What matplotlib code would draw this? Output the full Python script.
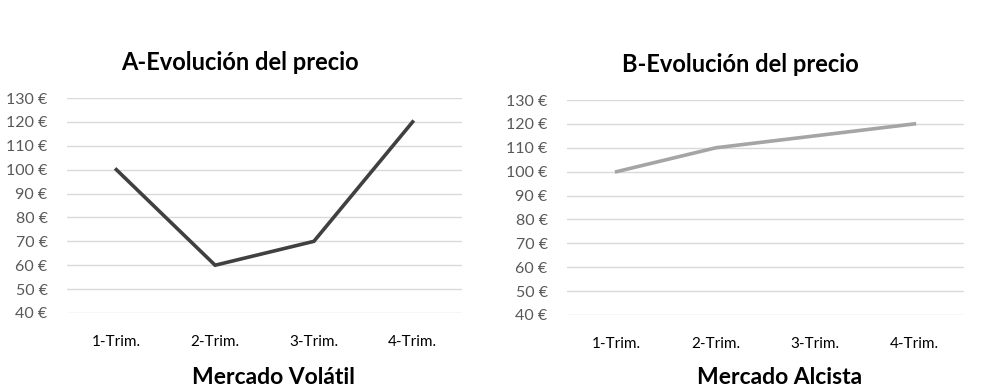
import matplotlib
matplotlib.use("Agg")
import matplotlib.pyplot as plt

categories = ["1-Trim.", "2-Trim.", "3-Trim.", "4-Trim."]
volatil = [100, 60, 70, 120]
alcista = [100, 110, 115, 120]
yticks = [40, 50, 60, 70, 80, 90, 100, 110, 120, 130]
ytick_labels = [f"{v} €" for v in yticks]

plt.rcParams['font.family'] = ['Lato', 'DejaVu Sans']

fig = plt.figure(figsize=(9.92, 3.89), dpi=100)

panels = [
    dict(rect=[67/992, 1-313/389, 395/992, 215/389], data=volatil, color="#404040",
         title="A-Evolución del precio", title_x=240/992, title_y=1-62/389,
         xlabel="Mercado Volátil", xl_x=273/992),
    dict(rect=[567/992, 1-315/389, 397/992, 215/389], data=alcista, color="#A5A5A5",
         title="B-Evolución del precio", title_x=740/992, title_y=1-65/389,
         xlabel="Mercado Alcista", xl_x=780/992),
]

for p in panels:
    ax = fig.add_axes(p["rect"])
    x = list(range(len(categories)))
    ax.plot(x, p["data"], color=p["color"], lw=2.6, solid_joinstyle="miter")
    ax.set_xlim(-0.5, len(categories) - 0.5)
    ax.set_ylim(40, 130)
    ax.set_yticks(yticks)
    ax.set_yticklabels(ytick_labels, color="#595959", fontsize=11.5)
    ax.set_xticks(x)
    ax.set_xticklabels(categories, color="#000000", fontsize=11)
    ax.tick_params(length=0, axis="y", pad=14)
    ax.tick_params(length=0, axis="x", pad=16)
    ax.grid(axis="y", color="#D9D9D9", lw=1)
    ax.set_axisbelow(True)
    for s in ax.spines.values():
        s.set_visible(False)
    fig.text(p["title_x"], p["title_y"], p["title"], ha="center", va="center",
             fontsize=17, fontweight="bold", color="#000000")
    fig.text(p["xl_x"], 1-377/389, p["xlabel"], ha="center", va="center",
             fontsize=16.5, fontweight="bold", color="#000000")

fig.savefig("out.png", dpi=100)
